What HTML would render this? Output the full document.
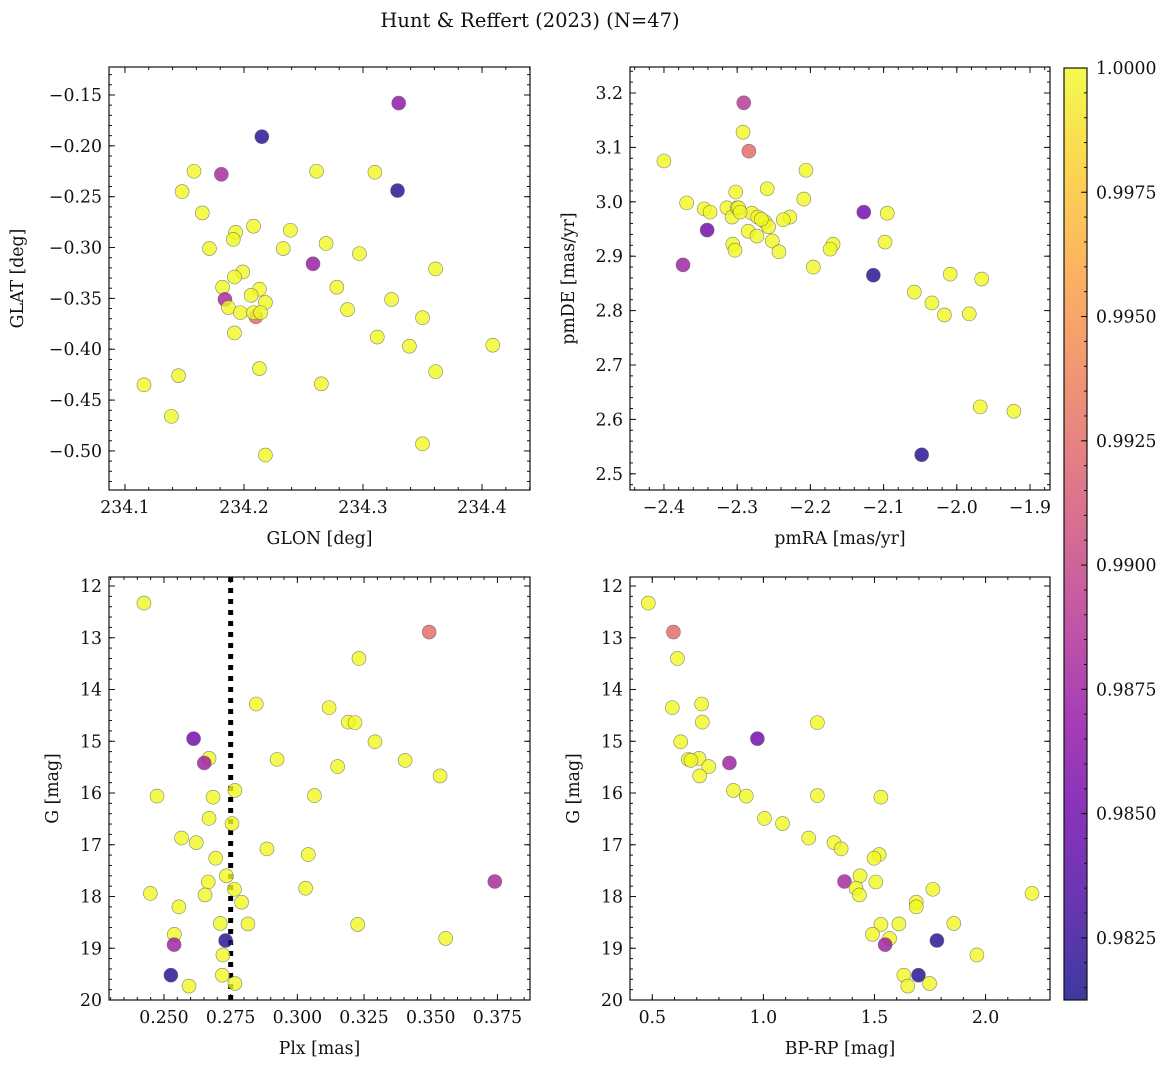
<!DOCTYPE html>
<html><head><meta charset="utf-8"><style>
html,body{margin:0;padding:0;background:#fff;}
svg text{font-family:"DejaVu Serif","Liberation Serif",serif;fill:#111;}
</style></head><body>
<svg id="fig" width="1173" height="1067" viewBox="0 0 1173 1067" xmlns="http://www.w3.org/2000/svg">
<text x="530" y="27" font-size="19.5" text-anchor="middle">Hunt &amp; Reffert (2023) (N=47)</text>
</svg>
<script>
// ---- data ----
const glon=[234.330,234.215,234.329,234.181,234.158,234.261,234.310,234.148,234.165,234.208,234.193,234.191,234.239,234.171,234.233,234.269,234.297,234.258,234.199,234.192,234.361,234.182,234.213,234.278,234.184,234.206,234.218,234.324,234.187,234.197,234.210,234.208,234.214,234.287,234.192,234.350,234.312,234.339,234.409,234.213,234.145,234.361,234.116,234.265,234.139,234.350,234.218];
const glat=[-0.158,-0.191,-0.244,-0.228,-0.225,-0.225,-0.226,-0.245,-0.266,-0.279,-0.285,-0.292,-0.283,-0.301,-0.301,-0.296,-0.306,-0.316,-0.324,-0.329,-0.321,-0.339,-0.341,-0.339,-0.351,-0.347,-0.354,-0.351,-0.359,-0.364,-0.368,-0.364,-0.364,-0.361,-0.384,-0.369,-0.388,-0.397,-0.396,-0.419,-0.426,-0.422,-0.435,-0.434,-0.466,-0.493,-0.504];
const probPos=[0.9865,0.9818,0.9818,0.988,1,1,1,1,1,1,1,1,1,1,1,1,1,0.987,1,1,1,1,1,1,0.988,1,1,1,1,1,0.9925,1,1,1,1,1,1,1,1,1,1,1,1,1,1,1,1];
const pmra=[-2.291,-2.292,-2.284,-2.400,-2.206,-2.302,-2.259,-2.369,-2.209,-2.345,-2.337,-2.314,-2.307,-2.300,-2.298,-2.280,-2.272,-2.262,-2.257,-2.228,-2.237,-2.285,-2.273,-2.252,-2.306,-2.303,-2.243,-2.341,-2.374,-2.127,-2.095,-2.098,-2.169,-2.173,-2.196,-2.114,-2.048,-2.058,-2.034,-2.009,-1.966,-2.017,-1.983,-1.968,-1.922,-2.296,-2.267];
const pmde=[3.182,3.128,3.093,3.075,3.058,3.018,3.024,2.998,3.005,2.987,2.981,2.989,2.972,2.989,2.989,2.979,2.972,2.963,2.954,2.972,2.967,2.946,2.937,2.928,2.922,2.911,2.908,2.948,2.884,2.981,2.979,2.926,2.922,2.913,2.880,2.865,2.535,2.834,2.814,2.867,2.858,2.792,2.794,2.623,2.615,2.981,2.968];
const probPm=[0.989,1,0.9925,1,1,1,1,1,1,1,1,1,1,1,1,1,1,1,1,1,1,1,1,1,1,1,1,0.985,0.9875,0.985,1,1,1,1,1,0.9818,0.9818,1,1,1,1,1,1,1,1,1,1];
const plx=[0.2425,0.3494,0.3231,0.2846,0.3119,0.3191,0.3216,0.2611,0.3291,0.2669,0.2651,0.2924,0.3404,0.3151,0.3535,0.2766,0.2474,0.2684,0.3064,0.2669,0.2755,0.2566,0.2621,0.2886,0.3041,0.2694,0.2734,0.2666,0.374,0.2764,0.3031,0.2449,0.2654,0.2791,0.2556,0.2711,0.2815,0.3226,0.2539,0.3556,0.2538,0.2731,0.2721,0.2526,0.2719,0.2594,0.2766];
const gmag=[12.33,12.89,13.40,14.28,14.35,14.63,14.64,14.95,15.01,15.33,15.42,15.35,15.37,15.49,15.67,15.95,16.06,16.08,16.05,16.49,16.59,16.87,16.96,17.08,17.19,17.26,17.60,17.72,17.71,17.86,17.84,17.94,17.97,18.11,18.20,18.52,18.53,18.54,18.73,18.81,18.93,18.85,19.13,19.52,19.52,19.73,19.68];
const bprp=[0.482,0.595,0.613,0.722,0.590,0.725,1.243,0.973,0.628,0.710,0.847,0.662,0.674,0.754,0.713,0.865,0.923,1.529,1.243,1.005,1.086,1.204,1.318,1.350,1.521,1.498,1.435,1.506,1.365,1.763,1.417,2.209,1.432,1.688,1.688,1.857,1.610,1.529,1.491,1.568,1.548,1.781,1.961,1.698,1.632,1.650,1.748];
const probPhot=[1,0.9925,1,1,1,1,1,0.985,1,1,0.9875,1,1,1,1,1,1,1,1,1,1,1,1,1,1,1,1,1,0.988,1,1,1,1,1,1,1,1,1,1,1,0.9875,0.982,1,0.9818,1,1,1];
const plxLine=0.275;
const cbTicks=[0.9825,0.985,0.9875,0.99,0.9925,0.995,0.9975,1.0];
const VMIN=0.98125, VMAX=1.0;

const NS="http://www.w3.org/2000/svg";
const svg=document.getElementById('fig');
const FS=17.3;
function mk(tag,attrs,parent){const e=document.createElementNS(NS,tag);for(const k in attrs)e.setAttribute(k,attrs[k]);(parent||svg).appendChild(e);return e;}
const stops=[[0,[13,8,135]],[0.1,[65,4,157]],[0.2,[106,0,168]],[0.3,[143,13,164]],[0.4,[177,42,144]],[0.5,[204,71,120]],[0.6,[225,100,98]],[0.7,[242,132,75]],[0.8,[252,166,54]],[0.9,[252,206,37]],[1,[240,249,33]]];
function plasma(t){t=Math.max(0,Math.min(1,t));for(let i=1;i<stops.length;i++){if(t<=stops[i][0]){const a=stops[i-1],b=stops[i],f=(t-a[0])/(b[0]-a[0]);const c=a[1].map((v,j)=>Math.round(v+(b[1][j]-v)*f));return `rgb(${c[0]},${c[1]},${c[2]})`;}}return 'rgb(240,249,33)';}
function fmt(v,d){return (v<0?'\u2212':'')+Math.abs(v).toFixed(d);}

function panel(o){
  const g=mk('g',{});
  
  
  const L=o.x0,R=o.x1,T=o.y0,B=o.y1;
  const sx=v=>L+(v-o.xmin)/(o.xmax-o.xmin)*(R-L);
  const sy=v=>o.yinv? T+(v-o.ymin)/(o.ymax-o.ymin)*(B-T) : B-(v-o.ymin)/(o.ymax-o.ymin)*(B-T);
  const tg=mk('g',{stroke:'#111','stroke-width':1},g);
  function ticksX(step,len,lab,d){const s=Math.ceil(o.xmin/step-1e-6);for(let k=s;k*step<=o.xmax+1e-9;k++){const v=k*step,x=sx(v);mk('line',{x1:x,y1:B,x2:x,y2:B-len},tg);mk('line',{x1:x,y1:T,x2:x,y2:T+len},tg);if(lab){const t=mk('text',{x:x,y:B+23,'font-size':FS,'text-anchor':'middle',stroke:'none'},g);t.textContent=fmt(v,d);}}}
  function ticksY(step,len,lab,d){const lo=Math.min(o.ymin,o.ymax),hi=Math.max(o.ymin,o.ymax);const s=Math.ceil(lo/step-1e-6);for(let k=s;k*step<=hi+1e-9;k++){const v=k*step,y=sy(v);mk('line',{x1:L,y1:y,x2:L+len,y2:y},tg);mk('line',{x1:R,y1:y,x2:R-len,y2:y},tg);if(lab){const t=mk('text',{x:L-7,y:y+6,'font-size':FS,'text-anchor':'end',stroke:'none'},g);t.textContent=fmt(v,d);}}}
  ticksX(o.xminor,3,false);ticksX(o.xmajor,6,true,o.xd);
  ticksY(o.yminor,3,false);ticksY(o.ymajor,6,true,o.yd);
  if(o.vline!==undefined){const vl=mk('line',{x1:sx(o.vline),y1:T,x2:sx(o.vline),y2:B,stroke:'#000','stroke-width':5,'stroke-dasharray':'5 6'},g);}
  for(let i=0;i<o.xs.length;i++){
    const c=mk('circle',{cx:sx(o.xs[i]),cy:sy(o.ys[i]),r:7,fill:plasma((o.p[i]-VMIN)/(VMAX-VMIN)),'fill-opacity':0.8,stroke:'#666','stroke-opacity':0.8,'stroke-width':0.6},g);
    
    
  }
  const fr=mk('rect',{x:L,y:T,width:R-L,height:B-T,fill:'none',stroke:'#111','stroke-width':1.2},g);
  
  const xl=mk('text',{x:(L+R)/2,y:B+54,'font-size':FS,'text-anchor':'middle'},g);xl.textContent=o.xlabel;
  
  const yx=o.ylx;const yl=mk('text',{x:yx,y:(T+B)/2,'font-size':FS,'text-anchor':'middle',transform:`rotate(-90 ${yx} ${(T+B)/2})`},g);yl.textContent=o.ylabel;
  
}
panel({name:'position-panel',x0:109,x1:530,y0:67,y1:490,xmin:234.0866,xmax:234.4403,ymin:-0.5384,ymax:-0.1225,xmajor:0.1,xminor:0.02,ymajor:0.05,yminor:0.01,xd:1,yd:2,xs:glon,ys:glat,p:probPos,xlabel:'GLON [deg]',ylabel:'GLAT [deg]',ylx:23});
panel({name:'proper-motion-panel',x0:630,x1:1050,y0:67,y1:490,xmin:-2.4464,xmax:-1.8727,ymin:2.4702,ymax:3.2478,xmajor:0.1,xminor:0.02,ymajor:0.1,yminor:0.02,xd:1,yd:1,xs:pmra,ys:pmde,p:probPm,xlabel:'pmRA [mas/yr]',ylabel:'pmDE [mas/yr]',ylx:574});
panel({name:'parallax-panel',x0:109,x1:530,y0:577,y1:1000,xmin:0.2294,xmax:0.3872,ymin:11.826,ymax:20,yinv:true,xmajor:0.025,xminor:0.005,ymajor:1,yminor:0.2,xd:3,yd:0,xs:plx,ys:gmag,p:probPhot,xlabel:'Plx [mas]',ylabel:'G [mag]',ylx:58,vline:plxLine});
panel({name:'cmd-panel',x0:630,x1:1050,y0:577,y1:1000,xmin:0.3996,xmax:2.290,ymin:11.826,ymax:20,yinv:true,xmajor:0.5,xminor:0.1,ymajor:1,yminor:0.2,xd:1,yd:0,xs:bprp,ys:gmag,p:probPhot,xlabel:'BP-RP [mag]',ylabel:'G [mag]',ylx:579});

const cb=mk('g',{});


const defs=mk('defs',{},svg);const lg=mk('linearGradient',{id:'cbg',x1:0,y1:1,x2:0,y2:0},defs);
stops.forEach(s=>mk('stop',{offset:s[0],'stop-color':plasma(s[0]),'stop-opacity':0.8},lg));
const CT=68,CB=1000,CL=1064,CR=1087;
mk('rect',{x:CL,y:CT,width:CR-CL,height:CB-CT,fill:'url(#cbg)',stroke:'#111','stroke-width':1.2},cb);
const cy=v=>CB-(v-VMIN)/(VMAX-VMIN)*(CB-CT);
for(let k=Math.ceil(VMIN/0.0005);k*0.0005<=VMAX+1e-9;k++){const y=cy(k*0.0005);mk('line',{x1:CR,y1:y,x2:CR-3,y2:y,stroke:'#111'},cb);}
cbTicks.forEach(v=>{const y=cy(v);mk('line',{x1:CR,y1:y,x2:CR-6,y2:y,stroke:'#111'},cb);const t=mk('text',{x:CR+9,y:y+6,'font-size':FS},cb);t.textContent=v.toFixed(4);});
</script>
</body></html>
